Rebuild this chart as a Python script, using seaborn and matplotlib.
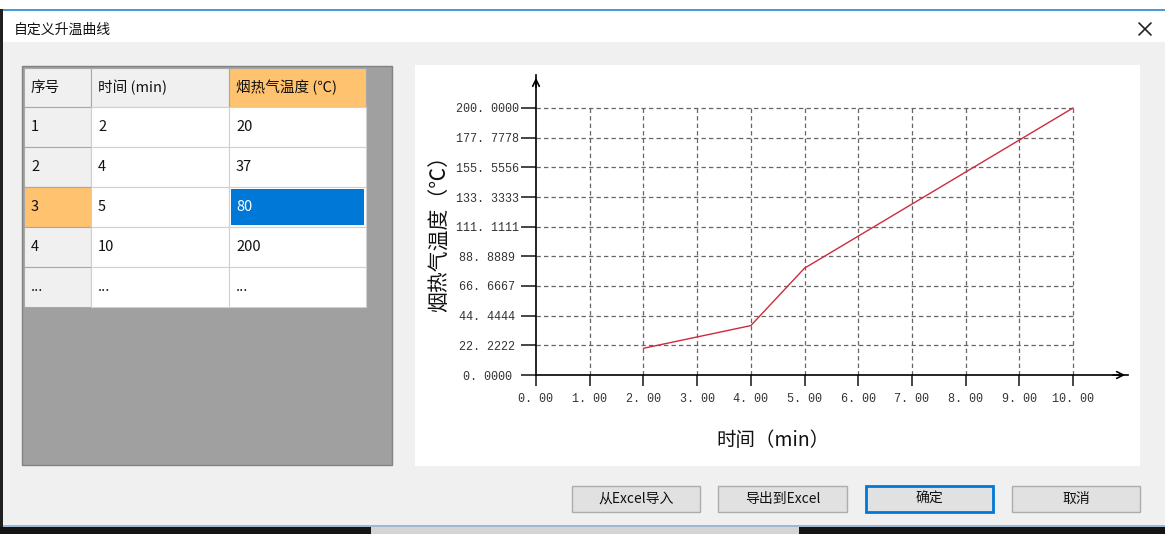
import matplotlib.pyplot as plt
from matplotlib.patches import Rectangle
import seaborn as sns

# data of the curve / table
time_min = [2, 4, 5, 10]
temp_c = [20, 37, 80, 200]
row_ids = ['1', '2', '3', '4', '...']
time_cells = ['2', '4', '5', '10', '...']
temp_cells = ['20', '37', '80', '200', '...']
col_headers = ['序号', '时间 (min)', '烟热气温度 (℃)']
x_ticks = [0, 1, 2, 3, 4, 5, 6, 7, 8, 9, 10]
y_ticks = [0.0, 22.2222, 44.4444, 66.6667, 88.8889, 111.1111, 133.3333, 155.5556, 177.7778, 200.0]
buttons = ['从Excel导入', '导出到Excel', '确定', '取消']
sel_row, sel_col = 2, 2

sns.set_style('white')
plt.rcParams['font.family'] = ['Noto Sans CJK SC', 'DejaVu Sans']

W, H = 1165, 534
fig = plt.figure(figsize=(W / 100, H / 100), dpi=100)
fig.patch.set_facecolor('#f0f0f0')

# background axes in pixel coords (y down) for the dialog chrome
bg = fig.add_axes([0, 0, 1, 1])
bg.set_xlim(0, W)
bg.set_ylim(H, 0)
bg.axis('off')


def box(x0, y0, x1, y1, fc, ec='none', lw=1, z=1):
    bg.add_patch(Rectangle((x0, y0), x1 - x0, y1 - y0, facecolor=fc,
                           edgecolor=ec, linewidth=lw, zorder=z))


# window frame
box(0, 0, W, 42, 'white')
box(0, 9, W, 10.5, '#4a9ad8')
box(0, 525, W, 527, '#9db8d4')
box(0, 527, W, H, '#141414')
box(371, 527, 799, H, '#d4d4d4', z=2)
box(0, 9, 3, 527, '#202020', z=2)
bg.text(14, 30, '自定义升温曲线', fontsize=10, va='center', color='#111')
bg.plot([1139, 1151], [23, 35], color='#222', lw=1.2)
bg.plot([1139, 1151], [35, 23], color='#222', lw=1.2)

# table
box(22, 66, 392, 465, '#a0a0a0', ec='#828282')
col_x = [24, 91, 229, 366]
row_y = [68, 107, 147, 187, 227, 267, 307]
orange = '#ffc26e'
for c in range(3):
    fc = orange if c == sel_col else '#f0f0f0'
    box(col_x[c], row_y[0], col_x[c + 1], row_y[1], fc, ec='#a8a8a8', lw=0.8, z=2)
    bg.text(col_x[c] + 7, (row_y[0] + row_y[1]) / 2, col_headers[c],
            fontsize=10.5, va='center', color='#111', zorder=3)
for r in range(len(row_ids)):
    y0, y1 = row_y[r + 1], row_y[r + 2]
    cells = [row_ids[r], time_cells[r], temp_cells[r]]
    for c in range(3):
        if c == 0:
            fc = orange if r == sel_row else '#f0f0f0'
            ec = '#a8a8a8'
        else:
            fc = 'white'
            ec = '#d0d0d0'
        box(col_x[c], y0, col_x[c + 1], y1, fc, ec=ec, lw=0.8, z=2)
        tc = '#111'
        if r == sel_row and c == sel_col:
            box(col_x[c] + 2, y0 + 2, col_x[c + 1] - 2, y1 - 2, '#0078d7', z=3)
            tc = 'white'
        bg.text(col_x[c] + 7, (y0 + y1) / 2, cells[c], fontsize=10.5,
                va='center', color=tc, zorder=4)

# chart panel
box(415, 65, 1140, 466, 'white')

# buttons
btn_x = [(572, 700), (718, 847), (866, 993), (1012, 1140)]
for (bx0, bx1), label in zip(btn_x, buttons):
    if label == '确定':
        box(bx0, 486, bx1, 512, '#e1e1e1', ec='#0078d7', lw=2)
    else:
        box(bx0, 486, bx1, 512, '#e1e1e1', ec='#adadad', lw=1)
    bg.text((bx0 + bx1) / 2, 499, label, fontsize=10, ha='center', va='center', color='#111')

# chart axes: pixel anchors of the data range and the arrow tips
px_x0, px_x10, arrow_x = 536, 1073, 1128
px_y0, px_y200, arrow_y = 375, 108, 75
xmax = x_ticks[-1] * (arrow_x - px_x0) / (px_x10 - px_x0)
ymax = y_ticks[-1] * (px_y0 - arrow_y) / (px_y0 - px_y200)
ax = fig.add_axes([px_x0 / W, 1 - px_y0 / H, (arrow_x - px_x0) / W, (px_y0 - arrow_y) / H])
ax.set_xlim(0, xmax)
ax.set_ylim(0, ymax)
ax.patch.set_alpha(0)

ax.hlines(y_ticks[1:], x_ticks[0], x_ticks[-1], colors='#666666', lw=0.9,
          linestyles=(0, (3.5, 2.5)), zorder=1)
ax.vlines(x_ticks[1:], y_ticks[0], y_ticks[-1], colors='#666666', lw=0.9,
          linestyles=(0, (3.5, 2.5)), zorder=1)

sns.lineplot(x=time_min, y=temp_c, color='#cf2a3e', lw=1, ax=ax, zorder=3)

for s in ['top', 'right']:
    ax.spines[s].set_visible(False)
for s in ['left', 'bottom']:
    ax.spines[s].set_color('black')
    ax.spines[s].set_linewidth(1.2)
ax.annotate('', xy=(1, 0), xytext=(0.97, 0), xycoords='axes fraction',
            arrowprops=dict(arrowstyle='->', lw=1.2, color='black', mutation_scale=12))
ax.annotate('', xy=(0, 1), xytext=(0, 0.95), xycoords='axes fraction',
            arrowprops=dict(arrowstyle='->', lw=1.2, color='black', mutation_scale=12))

ax.set_xticks(x_ticks)
ax.set_xticklabels([f'{v:.2f}'.replace('.', '. ') for v in x_ticks],
                   fontsize=8.5, fontfamily='Liberation Mono', color='#333333')
ax.set_yticks(y_ticks)
ax.set_yticklabels([f'{v:.4f}'.replace('.', '. ') for v in y_ticks],
                   fontsize=8.5, fontfamily='Liberation Mono', color='#333333', ha='center')
ax.tick_params(axis='y', direction='out', length=11, width=1.2, pad=24, left=True)
ax.tick_params(axis='x', direction='out', length=8, width=1.2, pad=5, bottom=True)

ax.set_xlabel('时间（min）', fontsize=14, color='#111')
ax.set_ylabel('烟热气温度（℃）', fontsize=15, color='#111')
ax.xaxis.label.set_va('center')
ax.yaxis.label.set_va('center')
ax.xaxis.set_label_coords((773 - px_x0) / (arrow_x - px_x0), (px_y0 - 441) / (px_y0 - arrow_y))
ax.yaxis.set_label_coords((440 - px_x0) / (arrow_x - px_x0), (px_y0 - 229) / (px_y0 - arrow_y))

fig.savefig('out.png', dpi=100)
